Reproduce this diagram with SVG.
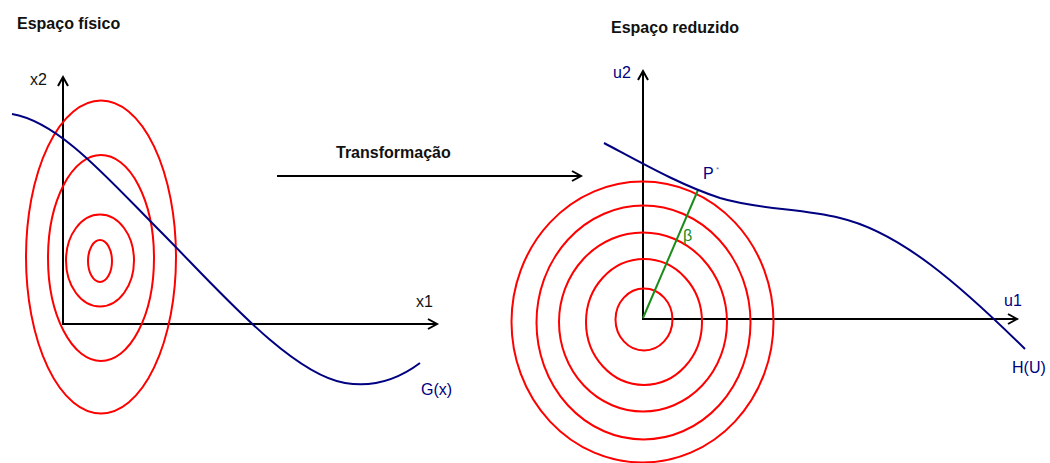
<svg xmlns="http://www.w3.org/2000/svg" width="1050" height="463" viewBox="0 0 1050 463">
<style>
.title{font-family:"Liberation Sans",Arial,sans-serif;font-size:16px;font-weight:bold;fill:#111}
.lbl{font-family:"Liberation Sans",Arial,sans-serif;font-size:16px}
.blk{fill:#111}
.blue{fill:#000080}
.grn{fill:#1a8c1a}
.axis{stroke:#000;stroke-width:2;fill:none}
.ring{stroke:#ff0000;stroke-width:2;fill:none}
.curve{stroke:#000080;stroke-width:2;fill:none}
.beta{stroke:#1a8c1a;stroke-width:2;fill:none}
</style>
<defs>
<marker id="arrow" markerUnits="userSpaceOnUse" markerWidth="14" markerHeight="14" refX="9" refY="6" orient="auto" overflow="visible">
<path d="M0,1 L9,6 L0,11" fill="none" stroke="#000" stroke-width="2"/>
</marker>
</defs>
<rect width="1050" height="463" fill="#fff"/>

<g id="title-fisico"><text class="title" x="17" y="29">Espaço físico</text></g>
<g id="title-reduzido"><text class="title" x="611" y="33">Espaço reduzido</text></g>

<g id="connectors">
<line id="axis-x2" class="axis" x1="63" y1="324" x2="63" y2="77" marker-end="url(#arrow)"/>
<line id="axis-x1" class="axis" x1="62" y1="324" x2="437" y2="324" marker-end="url(#arrow)"/>
<line id="transform-arrow" class="axis" x1="277" y1="176" x2="581" y2="176" marker-end="url(#arrow)"/>
<line id="axis-u2" class="axis" x1="643" y1="319" x2="643" y2="71" marker-end="url(#arrow)"/>
<line id="axis-u1" class="axis" x1="642" y1="319" x2="1017" y2="319" marker-end="url(#arrow)"/>
</g>

<g id="physical-contours">
<ellipse class="ring" cx="100" cy="261" rx="12" ry="21"/>
<ellipse class="ring" cx="100" cy="260.5" rx="34" ry="46"/>
<ellipse class="ring" cx="101" cy="258" rx="53" ry="103"/>
<ellipse class="ring" cx="101" cy="257" rx="75" ry="156.5"/>
</g>

<g id="G-curve">
<path class="curve" d="M12,114 C60,122 110,181 160,231 C215,286 290,374 345,383 C375,388 400,378 420,363"/>
<text class="lbl blue" x="421" y="395">G(x)</text>
</g>

<g id="labels-physical">
<text class="lbl blk" x="30" y="85">x2</text>
<text class="lbl blk" x="416" y="307">x1</text>
</g>

<g id="transform-label"><text class="title" x="336" y="158">Transformação</text></g>

<g id="reduced-contours">
<ellipse class="ring" cx="644" cy="319.5" rx="28.5" ry="31"/>
<ellipse class="ring" cx="644" cy="322" rx="58" ry="63"/>
<ellipse class="ring" cx="643" cy="322" rx="84" ry="89.5"/>
<ellipse class="ring" cx="643.5" cy="322.5" rx="107" ry="117"/>
<ellipse class="ring" cx="642.5" cy="322" rx="131" ry="140.5"/>
</g>

<g id="beta-line">
<line class="beta" x1="643" y1="318" x2="698" y2="190"/>
<text class="lbl grn" x="683" y="241">β</text>
</g>

<g id="H-curve">
<path class="curve" d="M604,143 C640,162 680,185 720,198 C760,210 800,208 840,218 C900,232 960,285 1025,349"/>
<text class="lbl blue" x="1012" y="373">H(U)</text>
</g>

<g id="labels-reduced">
<text class="lbl blue" x="613" y="78">u2</text>
<text class="lbl blue" x="1004" y="306">u1</text>
<text class="lbl blue" x="703" y="179">P</text>
<text class="blue" x="716" y="172" font-family="Liberation Sans,Arial,sans-serif" font-size="8" fill-opacity="0.6">*</text>
</g>
</svg>
